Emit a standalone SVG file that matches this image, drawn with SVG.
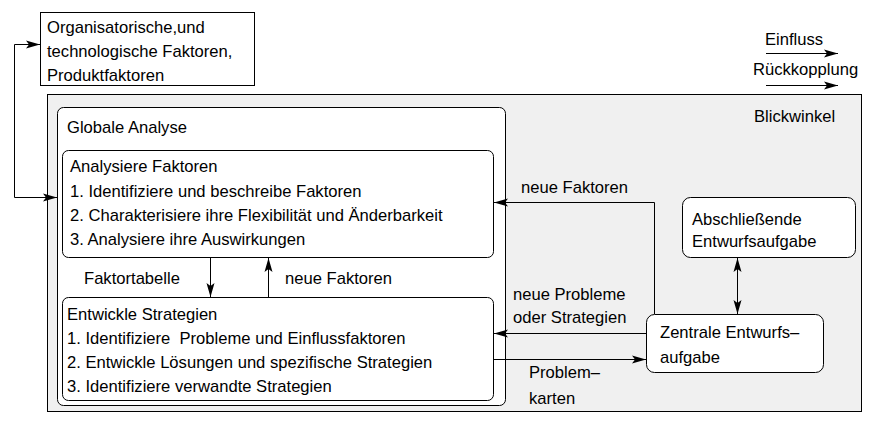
<svg xmlns="http://www.w3.org/2000/svg" width="873" height="423" viewBox="0 0 873 423">
<style>
text{font-family:"Liberation Sans",Arial,sans-serif;font-size:16.6px;fill:#000}
.box{fill:#fff;stroke:#000;stroke-width:1}
.c{fill:none;stroke:#000;stroke-width:1}
</style>
<defs>
<marker id="ah" markerUnits="userSpaceOnUse" markerWidth="16" markerHeight="10" viewBox="0 -5 16 10" refX="14" refY="0" orient="auto-start-reverse">
<path d="M0,-4 L14,0 L0,4 L3,0 Z" fill="#000"/>
</marker>
</defs>
<rect width="873" height="423" fill="#fff"/>
<g id="blickwinkel">
<rect x="47.5" y="94.5" width="814" height="317" fill="#f0f0f0" stroke="#000"/>
<text x="754" y="122">Blickwinkel</text>
</g>
<g id="faktoren-extern">
<rect class="box" x="40.5" y="12.5" width="214" height="73"/>
<text x="47" y="33">Organisatorische,und</text>
<text x="47" y="57">technologische Faktoren,</text>
<text x="47" y="81">Produktfaktoren</text>
</g>
<g id="legende">
<text x="765" y="45">Einfluss</text>
<text x="753" y="75">Rückkopplung</text>
</g>
<g id="globale-analyse">
<rect class="box" x="57.5" y="107.5" width="448" height="298" rx="6"/>
<text x="67" y="133">Globale Analyse</text>
</g>
<g id="analysiere-faktoren">
<rect class="box" x="62.5" y="150.5" width="431" height="107" rx="6"/>
<text x="70" y="172">Analysiere Faktoren</text>
<text x="70" y="197">1. Identifiziere und beschreibe Faktoren</text>
<text x="70" y="221">2. Charakterisiere ihre Flexibilität und Änderbarkeit</text>
<text x="70" y="245">3. Analysiere ihre Auswirkungen</text>
</g>
<g id="entwickle-strategien">
<rect class="box" x="62.5" y="297.5" width="431" height="103" rx="6"/>
<text x="67" y="320">Entwickle Strategien</text>
<text x="67" y="344" xml:space="preserve">1. Identifiziere  Probleme und Einflussfaktoren</text>
<text x="67" y="368">2. Entwickle Lösungen und spezifische Strategien</text>
<text x="67" y="392">3. Identifiziere verwandte Strategien</text>
</g>
<g id="abschliessende-entwurfsaufgabe">
<rect class="box" x="682.5" y="197.5" width="173" height="60" rx="8"/>
<text x="692" y="225">Abschließende</text>
<text x="692" y="247">Entwurfsaufgabe</text>
</g>
<g id="zentrale-entwurfsaufgabe">
<rect class="box" x="646.5" y="314.5" width="177" height="58" rx="8"/>
<text x="660" y="338">Zentrale Entwurfs–</text>
<text x="660" y="363">aufgabe</text>
</g>
<g id="connectors">
<path class="c" d="M766,53.5 H838" marker-end="url(#ah)"/>
<path class="c" d="M766,85.5 H838" marker-end="url(#ah)"/>
<path class="c" d="M57,197.5 H14.5 V44.5 H40" marker-start="url(#ah)" marker-end="url(#ah)"/>
<path class="c" d="M210.5,258 V297" marker-end="url(#ah)"/>
<path class="c" d="M268.5,297 V258" marker-end="url(#ah)"/>
<path class="c" d="M654.5,314 V202.5 H494" marker-end="url(#ah)"/>
<path class="c" d="M737.5,258 V314" marker-start="url(#ah)" marker-end="url(#ah)"/>
<path class="c" d="M646,333.5 H494" marker-end="url(#ah)"/>
<path class="c" d="M494,359.5 H646" marker-end="url(#ah)"/>
<text x="84" y="284">Faktortabelle</text>
<text x="285" y="284">neue Faktoren</text>
<text x="521" y="193">neue Faktoren</text>
<text x="513" y="300">neue Probleme</text>
<text x="513" y="323">oder Strategien</text>
<text x="529" y="378">Problem–</text>
<text x="529" y="404">karten</text>
</g>
</svg>
